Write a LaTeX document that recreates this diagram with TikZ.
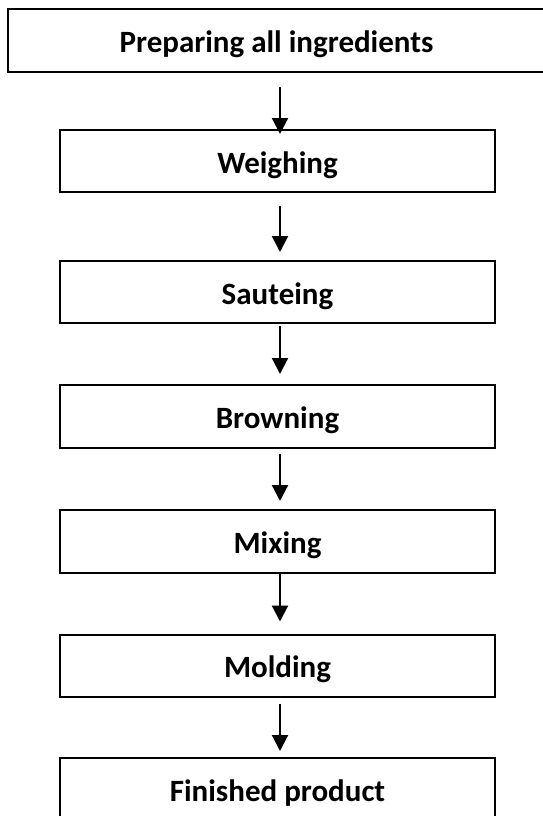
\documentclass[tikz,border=0pt]{standalone}
\usepackage{fontspec}
\setmainfont{Carlito}
\usetikzlibrary{arrows.meta}
\begin{document}
\begin{tikzpicture}[x=1pt,y=-1pt,
  stepbox/.style={draw=black,line width=2pt,rectangle,inner sep=0pt,
    minimum width=435pt,minimum height=62pt,text height=24pt,text depth=0pt,
    font=\fontsize{31}{36}\selectfont\bfseries},
  arr/.style={line width=2.2pt,-{Triangle[width=16pt,length=16pt]}}]
\useasboundingbox (0,0) rectangle (543,816);
\clip (0,0) rectangle (543,816);
\node[stepbox,minimum width=537pt,minimum height=63pt] (a) at (276.5,40.5) {Preparing all ingredients};
\node[stepbox] (b) at (277.5,161) {Weighing};
\node[stepbox] (c) at (277.5,292) {Sauteing};
\node[stepbox,minimum height=63pt] (d) at (277.5,416.5) {Browning};
\node[stepbox,minimum height=63pt] (e) at (277.5,541.5) {Mixing};
\node[stepbox] (f) at (277.5,665.5) {Molding};
\node[stepbox,minimum height=63pt] (g) at (277.5,789.5) {Finished product};
\draw[arr,shorten <=14pt,shorten >=-5pt] ([xshift=3.5pt]a.south) -- ([xshift=3.5pt]a.south |- b.north);
\draw[arr,shorten <=13pt,shorten >=8pt] ([xshift=2.5pt]b.south) -- ([xshift=2.5pt]c.north);
\draw[arr,shorten <=2pt,shorten >=10pt] ([xshift=2.5pt]c.south) -- ([xshift=2.5pt]d.north);
\draw[arr,shorten <=5pt,shorten >=8pt] ([xshift=2.5pt]d.south) -- ([xshift=2.5pt]e.north);
\draw[arr,shorten <=0pt,shorten >=12pt] ([xshift=2.5pt]e.south) -- ([xshift=2.5pt]f.north);
\draw[arr,shorten <=6pt,shorten >=6pt] ([xshift=2.5pt]f.south) -- ([xshift=2.5pt]g.north);
\end{tikzpicture}
\end{document}
